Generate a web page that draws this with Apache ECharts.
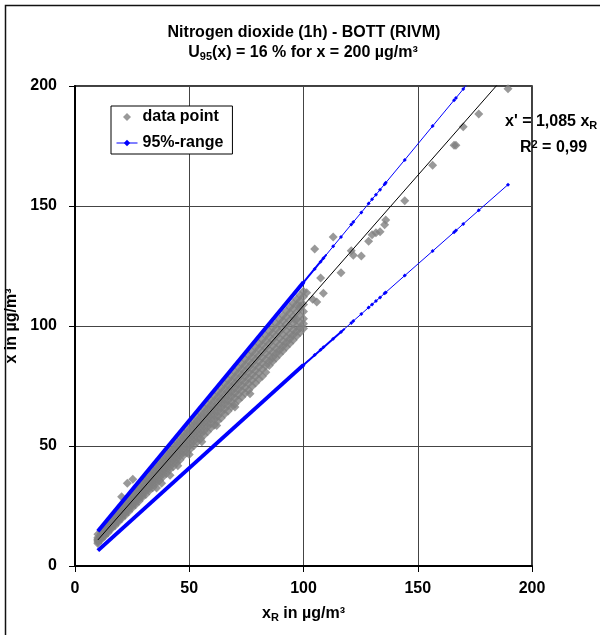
<!DOCTYPE html>
<html>
<head>
<meta charset="utf-8">
<script src="https://cdn.jsdelivr.net/npm/echarts@6/dist/echarts.min.js"></script>
<style>
  html, body { margin: 0; padding: 0; background: #fff; }
  #chart { width: 600px; height: 635px; }
</style>
</head>
<body>
<div id="chart"></div>
<script>
// Reference concentration xR (µg/m³) of the dense part of the cloud
const cloudX = [10, 11.5, 13, 14.5, 16, 17.5, 19, 20.5, 22, 23.5, 25, 26.5, 28, 29.5, 31, 32.5, 34, 35.5, 37, 38.5,
  40, 41.5, 43, 44.5, 46, 47.5, 49, 50.5, 52, 53.5, 55, 56.5, 58, 59.5, 61, 62.5, 64, 65.5, 67, 68.5,
  70, 71.5, 73, 74.5, 76, 77.5, 79, 80.5, 82, 83.5, 85, 86.5, 88, 89.5, 91, 92.5, 94, 95.5, 97, 98.5, 100];
// Measured x (µg/m³) at those reference values, from the lower edge of the cloud to its upper edge
const cloudRow1 = [9.4, 11.0, 12.4, 13.9, 15.5, 16.8, 18.3, 19.8, 21.1, 22.6, 24.2, 25.5, 27.0, 28.6, 29.8, 31.4, 32.6, 34.4, 35.6, 37.2,
  38.5, 40.2, 41.4, 43.0, 44.3, 46.0, 47.2, 48.8, 50.1, 51.7, 53.0, 54.6, 55.9, 57.5, 58.8, 60.4, 61.7, 63.3, 64.6, 66.2,
  67.5, 69.1, 70.4, 72.0, 73.3, 74.9, 76.2, 77.8, 79.1, 80.7, 83.5, 85.2, 86.7, 88.2, 89.7, 91.2, 92.7, 94.2, 95.8, 97.3, 99.0];
const cloudRow2 = [10.0, 11.4, 12.9, 14.5, 15.9, 17.5, 19.0, 20.4, 22.0, 23.4, 25.0, 26.4, 28.0, 29.4, 31.0, 32.4, 34.0, 35.4, 37.0, 38.4,
  40.0, 41.4, 43.0, 44.4, 46.0, 47.4, 49.0, 50.4, 52.0, 53.4, 55.0, 56.4, 58.0, 59.4, 61.0, 62.4, 64.0, 65.4, 67.0, 68.4,
  70.0, 71.4, 73.0, 74.4, 76.0, 77.4, 79.0, 80.4, 82.0, 83.4, 85.3, 86.9, 88.5, 90.0, 91.6, 93.1, 94.7, 96.2, 97.8, 99.3, 100.9];
const cloudRow3 = [10.5, 11.9, 13.3, 15.0, 16.4, 18.1, 19.5, 21.2, 22.7, 24.2, 25.7, 27.4, 28.8, 30.4, 32.0, 33.4, 35.1, 36.5, 38.2, 39.6,
  41.3, 42.7, 44.4, 45.8, 47.4, 48.9, 50.5, 52.0, 53.6, 55.1, 56.7, 58.2, 59.8, 61.3, 62.8, 64.4, 65.9, 67.5, 69.0, 70.6,
  72.1, 73.6, 75.2, 76.7, 78.3, 79.8, 81.4, 82.9, 84.5, 86.0, 87.6, 89.1, 90.6, 92.2, 93.7, 95.3, 96.8, 98.4, 99.9, 101.5, 103.0];
const cloudRow4 = [10.9, 12.3, 13.8, 15.4, 17.0, 18.5, 20.2, 21.7, 23.3, 24.9, 26.5, 28.1, 29.7, 31.3, 32.9, 34.4, 36.0, 37.6, 39.2, 40.8,
  42.4, 44.0, 45.6, 47.2, 48.8, 50.3, 51.9, 53.5, 55.1, 56.7, 58.3, 59.9, 61.5, 63.1, 64.7, 66.2, 67.8, 69.4, 71.0, 72.6,
  74.2, 75.8, 77.4, 79.0, 80.6, 82.1, 83.7, 85.3, 86.9, 88.5, 90.1, 91.7, 93.3, 94.9, 96.5, 98.0, 99.6, 101.2, 102.8, 104.4, 106.0];
const cloudRow5 = [11.2, 12.7, 14.2, 15.8, 17.5, 19.0, 20.8, 22.3, 24.0, 25.6, 27.3, 28.9, 30.5, 32.2, 33.8, 35.4, 37.1, 38.7, 40.3, 42.0,
  43.6, 45.2, 46.9, 48.5, 50.1, 51.8, 53.4, 55.0, 56.7, 58.3, 60.0, 61.6, 63.2, 64.9, 66.5, 68.1, 69.8, 71.4, 73.0, 74.7,
  76.3, 77.9, 79.6, 81.2, 82.8, 84.5, 86.1, 87.7, 89.4, 91.0, 92.7, 94.3, 95.9, 97.6, 99.2, 100.8, 102.5, 104.1, 105.7, 107.4, 109.0];
const cloudRow6 = [11.9, 13.5, 15.2, 16.9, 18.5, 20.2, 21.9, 23.6, 25.2, 26.9, 28.6, 30.2, 31.9, 33.6, 35.3, 36.9, 38.6, 40.3, 42.0, 43.6,
  45.3, 47.0, 48.6, 50.3, 52.0, 53.7, 55.3, 57.0, 58.7, 60.4, 62.0, 63.7, 65.4, 67.0, 68.7, 70.4, 72.1, 73.7, 75.4, 77.1,
  78.8, 80.4, 82.1, 83.8, 85.4, 87.1, 88.8, 90.5, 92.1, 93.8, 95.5, 97.1, 98.8, 100.5, 102.2, 103.8, 105.5, 107.2, 108.9, 110.5, 112.2];
const cloudRow7 = [13.2, 14.6, 16.4, 17.8, 19.8, 21.3, 23.2, 24.6, 26.6, 28.3, 29.8, 31.9, 33.4, 35.2, 36.6, 38.5, 40.0, 41.8, 43.6, 45.1,
  47.1, 48.4, 50.4, 52.0, 53.8, 55.5, 57.0, 58.9, 60.4, 62.3, 63.9, 65.7, 67.4, 69.1, 70.8, 72.5, 74.2, 75.9, 77.6, 79.2,
  80.9, 82.6, 84.3, 86.0, 87.7, 89.3, 91.0, 92.7, 94.3, 96.0, 97.7, 99.4, 101.0, 102.7, 104.4, 106.1, 107.8, 109.5, 111.1, 112.8, 114.5];
// Single points outside the dense cloud
const singleX = [20.4, 22.9, 25.3, 35.7, 37.9, 41.6, 45, 50, 55.5, 62, 70, 76.6, 96.1, 98.5, 101.4, 104, 105.8, 104.9, 107.5, 108.7,
  113, 116.4, 120.9, 121.8, 125.3, 128.5, 130, 131.7, 133.5, 135.5, 136, 144.3, 156.5, 165.9, 166.7, 169.9, 176.7, 189.5];
const singleY = [28.9, 34.5, 36.1, 32.5, 34.5, 37.8, 41.8, 46.5, 51.8, 58.5, 66.2, 71.8, 102.8, 108.3, 113.9, 111.1, 110, 132.1, 120, 113.6,
  137.1, 122.2, 131.4, 129.5, 129.2, 135.3, 138, 138.9, 139.3, 142.2, 144.2, 152.2, 167, 175.3, 175.3, 183, 188.3, 198.9];

// 95 % range: densely sampled stretch (xR 10 - 100)
const bandDenseX = [10, 100];
const upperDense = [14.5, 118.2];
const lowerDense = [6.4, 83.8];
// 95 % range: transition where the sampling thins out
const upperMidX = [100, 110];
const upperMid = [118.2, 129.7];
const lowerMidX = [100, 118];
const lowerMid = [83.8, 98.9];
// 95 % range: sparsely sampled stretch (xR > 100)
const bandX = [100, 104.9, 107.5, 108.7, 113, 116.4, 120.9, 121.8, 125.3, 128.5, 130, 131.7, 133.5, 135.5, 136,
  144.3, 156.5, 165.9, 166.7, 169.9, 176.7, 189.5];
const upperBand = [118.2, 123.8, 126.8, 128.2, 133.2, 137.1, 142.3, 143.3, 147.3, 151.0, 152.8, 154.7, 156.8, 159.1, 159.7,
  169.2, 183.3, 194.1, 195.0, 198.7, 206.6, 221.3];
const lowerBand = [83.8, 87.9, 90.1, 91.1, 94.7, 97.5, 101.3, 102.1, 105.0, 107.7, 109.0, 110.4, 111.9, 113.6, 114.0,
  121.0, 131.2, 139.1, 139.8, 142.5, 148.2, 158.9];

// Regression line x' = 1,085 xR
const regX = [10, 190];
const regY = [10.85, 206.15];

// Axis ticks
const axisMin = 0, axisMax = 200, axisStep = 50;

const FONT = '"Liberation Sans", Arial, Helvetica, sans-serif';
const BLUE = '#0000ff';
const DIAMOND = 'path://M4 0L8 4L4 8L0 4Z';

const pairs = (xs, ys) => xs.map((x, i) => [x, ys[i]]);
const cloudRows = [cloudRow1, cloudRow2, cloudRow3, cloudRow4, cloudRow5, cloudRow6, cloudRow7];
const scatterData = [];
cloudX.forEach((x, i) => cloudRows.forEach(row => scatterData.push([x, row[i]])));
singleX.forEach((x, i) => scatterData.push([x, singleY[i]]));

const chart = echarts.init(document.getElementById('chart'), null, { renderer: 'canvas' });

const axisCommon = {
  type: 'value',
  min: axisMin,
  max: axisMax,
  interval: axisStep,
  nameLocation: 'middle',
  axisLine: { show: true, onZero: false, lineStyle: { color: '#000', width: 2 } },
  axisTick: { show: true, inside: false, length: 6, lineStyle: { color: '#000', width: 1 } },
  splitLine: { show: true, lineStyle: { color: '#444', width: 1 } },
  axisLabel: { color: '#000', fontFamily: FONT, fontWeight: 'bold', fontSize: 16 },
  nameTextStyle: {
    color: '#000', fontFamily: FONT, fontWeight: 'bold', fontSize: 16,
    rich: {
      a: { fontFamily: FONT, fontWeight: 'bold', fontSize: 16, color: '#000' },
      s: { fontFamily: FONT, fontWeight: 'bold', fontSize: 11, color: '#000', verticalAlign: 'bottom', padding: [8, 0, 0, 0] }
    }
  }
};

const bandLine = (data, width, withSymbols) => ({
  name: '95%-range',
  type: 'line',
  symbol: 'diamond',
  symbolSize: 4,
  showSymbol: withSymbols,
  lineStyle: { color: BLUE, width: width },
  itemStyle: { color: BLUE },
  data: data,
  z: 3
});

const option = {
  animation: false,
  backgroundColor: '#fff',
  grid: {
    left: 75, top: 86, right: 68, bottom: 69,
    outerBoundsMode: 'none',
    containLabel: false,
    show: true, borderColor: '#000', borderWidth: 1.5, backgroundColor: 'transparent'
  },
  xAxis: Object.assign({}, axisCommon, {
    name: '{a|x}{s|R}{a| in µg/m³}',
    nameGap: 38,
    axisLabel: Object.assign({}, axisCommon.axisLabel, { margin: 15 })
  }),
  yAxis: Object.assign({}, axisCommon, {
    name: 'x in µg/m³',
    nameGap: 48,
    axisLabel: Object.assign({}, axisCommon.axisLabel, { margin: 18 })
  }),
  legend: {
    left: 111, top: 106,
    orient: 'vertical',
    data: [
      { name: 'data point', icon: DIAMOND, itemStyle: { color: '#808080' } },
      { name: '95%-range', lineStyle: { width: 1, color: BLUE } }
    ],
    symbolKeepAspect: true,
    itemWidth: 21, itemHeight: 8, itemGap: 10,
    padding: [3, 9, 3, 5],
    borderColor: '#000', borderWidth: 1,
    backgroundColor: '#fff',
    selectedMode: false,
    textStyle: { color: '#000', fontFamily: FONT, fontWeight: 'bold', fontSize: 16 }
  },
  graphic: [
    {
      type: 'rect', z: -10, silent: true,
      shape: { x: 5.5, y: 5.5, width: 700, height: 700 },
      style: { fill: 'none', stroke: '#111', lineWidth: 1.5 }
    },
    {
      type: 'text', x: 304, y: 33,
      style: {
        text: 'Nitrogen dioxide (1h) - BOTT (RIVM)', align: 'center', verticalAlign: 'middle',
        font: 'bold 16px ' + FONT, fill: '#000'
      }
    },
    {
      type: 'text', x: 303, y: 53,
      style: {
        text: '{a|U}{s|95}{a|(x) = 16 % for x = 200 µg/m³}', align: 'center', verticalAlign: 'middle',
        rich: {
          a: { font: 'bold 16px ' + FONT, fill: '#000' },
          s: { font: 'bold 11px ' + FONT, fill: '#000', verticalAlign: 'bottom', padding: [7, 0, 0, 0] }
        }
      }
    },
    {
      type: 'text', x: 505, y: 122, z: 100,
      style: {
        text: "{a|x' = 1,085 x}{s|R}", align: 'left', verticalAlign: 'middle',
        rich: {
          a: { font: 'bold 16px ' + FONT, fill: '#000' },
          s: { font: 'bold 11px ' + FONT, fill: '#000', verticalAlign: 'bottom', padding: [7, 0, 0, 0] }
        }
      }
    },
    {
      type: 'text', x: 520, y: 148, z: 100,
      style: {
        text: '{a|R}{p|2}{a| = 0,99}', align: 'left', verticalAlign: 'middle',
        rich: {
          a: { font: 'bold 16px ' + FONT, fill: '#000' },
          p: { font: 'bold 11px ' + FONT, fill: '#000', verticalAlign: 'top', padding: [0, 0, 7, 0] }
        }
      }
    }
  ],
  series: [
    {
      name: 'data point',
      type: 'scatter',
      symbol: 'diamond',
      symbolSize: 9,
      symbolKeepAspect: true,
      itemStyle: { color: '#808080' },
      data: scatterData,
      z: 2
    },
    bandLine(pairs(bandX, upperBand), 1, true),
    bandLine(pairs(bandX, lowerBand), 1, true),
    bandLine(pairs(upperMidX, upperMid), 2, false),
    bandLine(pairs(lowerMidX, lowerMid), 2, false),
    bandLine(pairs(bandDenseX, upperDense), 4, false),
    bandLine(pairs(bandDenseX, lowerDense), 4, false),
    {
      name: 'trend',
      type: 'line',
      showSymbol: false,
      lineStyle: { color: '#000', width: 1 },
      data: pairs(regX, regY),
      z: 4
    }
  ]
};

chart.setOption(option);
</script>
</body>
</html>
